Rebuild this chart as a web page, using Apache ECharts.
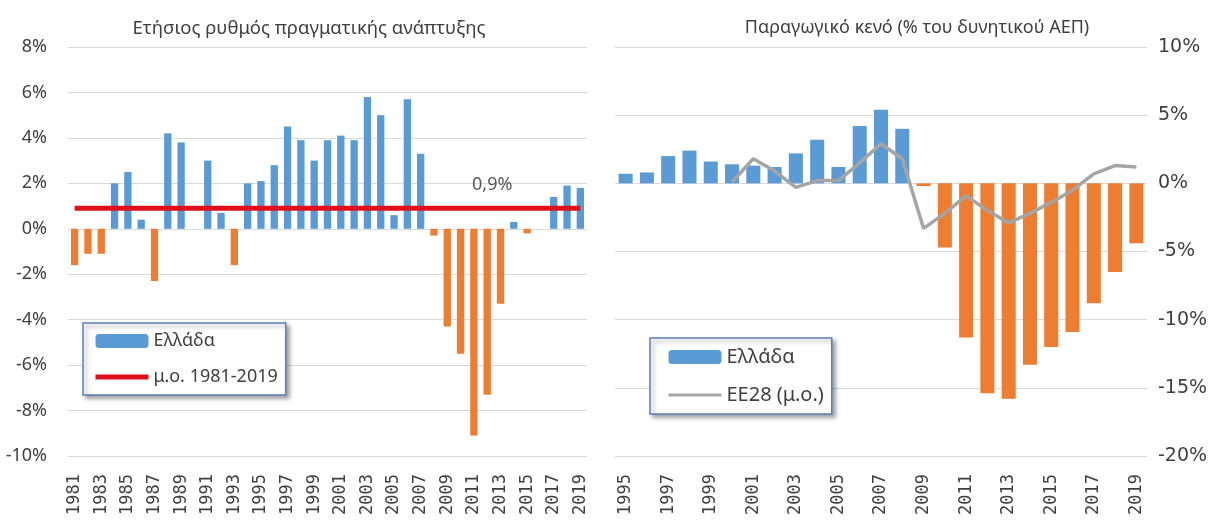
<!DOCTYPE html>
<html><head><meta charset="utf-8">
<script src="https://cdn.jsdelivr.net/npm/echarts@6/dist/echarts.min.js"></script>
<style>html,body{margin:0;padding:0;background:#fff}#c{width:1215px;height:524px}</style>
</head><body><div id="c"></div>
<script>
// ---- data ----
const titleLeft = 'Ετήσιος ρυθμός πραγματικής ανάπτυξης';
const titleRight = 'Παραγωγικό κενό (% του δυνητικού ΑΕΠ)';
const yearsLeft = ['1981','1982','1983','1984','1985','1986','1987','1988','1989','1990','1991','1992','1993','1994','1995','1996','1997','1998','1999','2000','2001','2002','2003','2004','2005','2006','2007','2008','2009','2010','2011','2012','2013','2014','2015','2016','2017','2018','2019'];
const growthGreece = [-1.6,-1.1,-1.1,2.0,2.5,0.4,-2.3,4.2,3.8,0.0,3.0,0.7,-1.6,2.0,2.1,2.8,4.5,3.9,3.0,3.9,4.1,3.9,5.8,5.0,0.6,5.7,3.3,-0.3,-4.3,-5.5,-9.1,-7.3,-3.3,0.3,-0.2,0.0,1.4,1.9,1.8];
const growthAvg = 0.9;
const growthAvgLabel = '0,9%';
const growthAvgLabelYear = '2012';
const yearsRight = ['1995','1996','1997','1998','1999','2000','2001','2002','2003','2004','2005','2006','2007','2008','2009','2010','2011','2012','2013','2014','2015','2016','2017','2018','2019'];
const gapGreece = [0.7,0.8,2.0,2.4,1.6,1.4,1.3,1.2,2.2,3.2,1.2,4.2,5.4,4.0,-0.2,-4.7,-11.3,-15.4,-15.8,-13.3,-12.0,-10.9,-8.8,-6.5,-4.4];
const gapEU28 = [null,null,null,null,null,0.1,1.8,0.9,-0.3,0.2,0.2,1.5,2.9,1.8,-3.3,-2.2,-0.9,-2.0,-2.9,-2.2,-1.4,-0.5,0.7,1.3,1.2];
const nameGreece = 'Ελλάδα';
const nameAvg = 'μ.ο. 1981-2019';
const nameEU = 'ΕΕ28 (μ.ο.)';

// ---- styles ----
const BLUE = '#5B9BD5', ORANGE = '#ED7D31', RED = '#E0101A', GREY = '#A5A5A5';
const TXT = '#404040', GRID = '#D9D9D9';
const signColored = arr => arr.map(v => ({value: v, itemStyle: {color: v < 0 ? ORANGE : BLUE}}));
const noSymbol = {color: 'rgba(0,0,0,0)', borderColor: 'rgba(0,0,0,0)', borderWidth: 0};

const legendBase = {
  orient: 'vertical', padding: [9, 8, 9, 10], itemGap: 18, itemWidth: 53, itemHeight: 14, itemTextGap: 4,
  borderColor: '#5B7DBE', borderWidth: 1.5, backgroundColor: '#fff',
  shadowColor: 'rgba(0,0,0,0.35)', shadowBlur: 4, shadowOffsetX: 3, shadowOffsetY: 3,
  textStyle: {fontFamily: 'Noto Sans', fontSize: 18, color: TXT}
};

const chart = echarts.init(document.getElementById('c'));
chart.setOption({
  animation: false,
  backgroundColor: '#fff',
  title: [
    {text: titleLeft, left: 304, top: 14, textAlign: 'center',
     textStyle: {fontFamily: 'Noto Sans', fontSize: 18.5, fontWeight: 'normal', color: TXT}},
    {text: titleRight, left: 912, top: 14, textAlign: 'center',
     textStyle: {fontFamily: 'Noto Sans', fontSize: 18, fontWeight: 'normal', color: TXT}}
  ],
  legend: [
    Object.assign({}, legendBase, {left: 83, top: 323,
      data: [nameGreece, {name: nameAvg, itemStyle: noSymbol, lineStyle: {color: RED, width: 5}}]}),
    Object.assign({}, legendBase, {left: 650, top: 338, padding: [9, 8, 9, 17],
      data: [nameGreece, {name: nameEU, itemStyle: noSymbol, lineStyle: {color: GREY, width: 3}}],
      textStyle: {fontFamily: 'Noto Sans', fontSize: 20, color: TXT}})
  ],
  grid: [
    {left: 68, top: 47, width: 519, height: 409},
    {left: 615, top: 47, width: 532, height: 409}
  ],
  xAxis: [
    {type: 'category', gridIndex: 0, data: yearsLeft,
     axisLine: {show: false}, axisTick: {show: false},
     axisLabel: {interval: 1, rotate: 90, margin: 18, fontFamily: 'DejaVu Sans Mono', fontSize: 17, color: TXT}},
    {type: 'category', gridIndex: 1, data: yearsRight,
     axisLine: {show: false}, axisTick: {show: false},
     axisLabel: {interval: 1, rotate: 90, margin: 18, fontFamily: 'DejaVu Sans Mono', fontSize: 17, color: TXT}}
  ],
  yAxis: [
    {type: 'value', gridIndex: 0, min: -10, max: 8, interval: 2,
     axisLine: {show: false}, axisTick: {show: false},
     axisLabel: {formatter: '{value}%', margin: 21, fontFamily: 'Noto Sans', fontSize: 18, color: TXT},
     splitLine: {lineStyle: {color: GRID, width: 1}}},
    {type: 'value', gridIndex: 1, position: 'right', min: -20, max: 10, interval: 5,
     axisLine: {show: false}, axisTick: {show: false},
     axisLabel: {formatter: '{value}%', margin: 11, fontFamily: 'DejaVu Sans', fontSize: 19, color: TXT},
     splitLine: {lineStyle: {color: GRID, width: 1}}}
  ],
  series: [
    {type: 'bar', name: nameGreece, xAxisIndex: 0, yAxisIndex: 0, barCategoryGap: '45%',
     itemStyle: {color: BLUE}, data: signColored(growthGreece)},
    {type: 'line', name: nameAvg, xAxisIndex: 0, yAxisIndex: 0, symbol: 'none',
     color: RED, lineStyle: {color: RED, width: 5},
     data: [[yearsLeft[0], growthAvg], [yearsLeft[yearsLeft.length - 1], growthAvg]],
     markPoint: {symbol: 'circle', symbolSize: 1, itemStyle: {color: 'rgba(0,0,0,0)'},
       label: {show: true, position: 'top', distance: 14, offset: [5, 0], formatter: growthAvgLabel,
               fontFamily: 'Noto Sans', fontSize: 18, color: '#595959'},
       data: [{coord: [growthAvgLabelYear, growthAvg]}]}},
    {type: 'bar', name: nameGreece, xAxisIndex: 1, yAxisIndex: 1, barCategoryGap: '34%',
     itemStyle: {color: BLUE}, data: signColored(gapGreece)},
    {type: 'line', name: nameEU, xAxisIndex: 1, yAxisIndex: 1, symbol: 'none',
     color: GREY, lineStyle: {color: GREY, width: 3.5}, data: gapEU28}
  ]
});
</script></body></html>
